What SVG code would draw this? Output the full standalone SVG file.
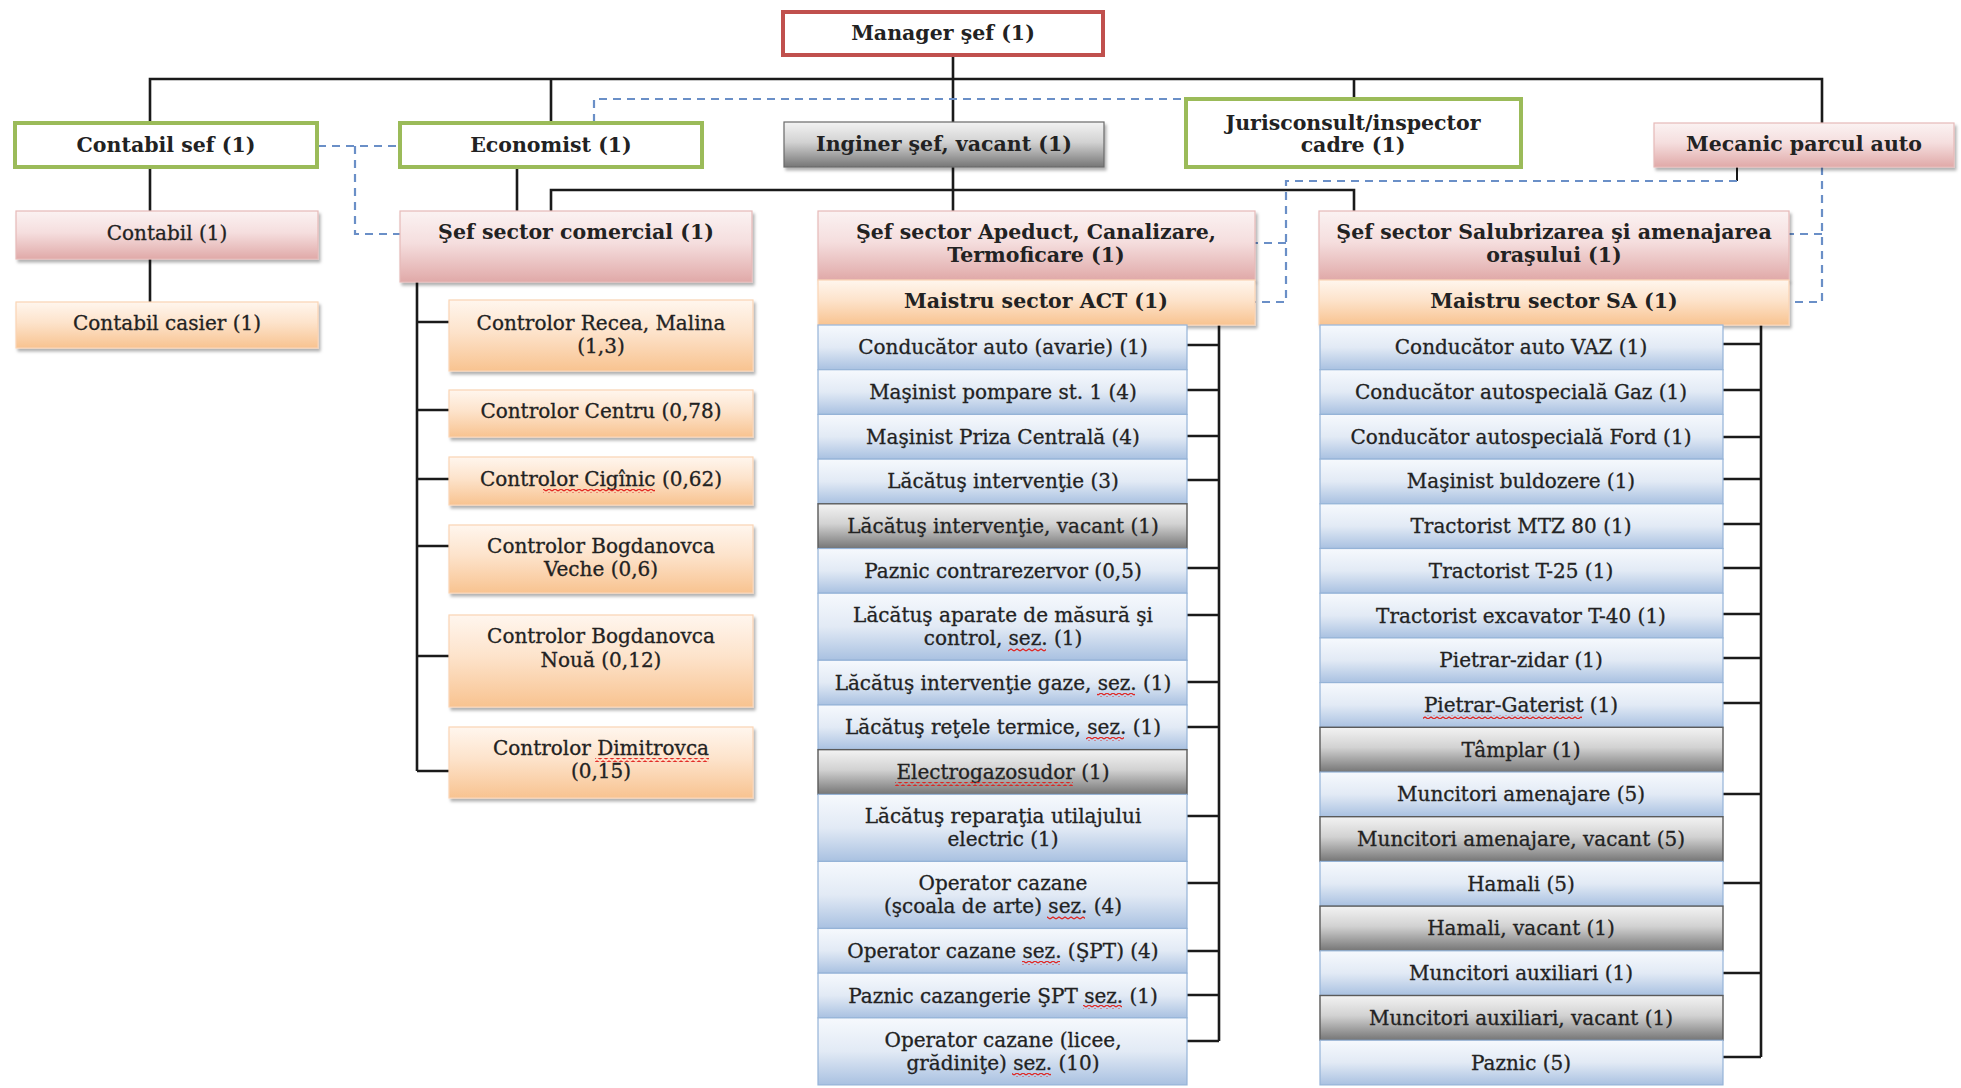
<svg xmlns="http://www.w3.org/2000/svg" width="1961" height="1088" viewBox="0 0 1961 1088">
<defs>
<linearGradient id="gPink" x1="0" y1="0" x2="0" y2="1"><stop offset="0" stop-color="#fbf2f2"/><stop offset="0.45" stop-color="#f5dede"/><stop offset="1" stop-color="#e0a9a8"/></linearGradient>
<linearGradient id="gOrange" x1="0" y1="0" x2="0" y2="1"><stop offset="0" stop-color="#fff6ee"/><stop offset="0.45" stop-color="#fde3cb"/><stop offset="1" stop-color="#f8c390"/></linearGradient>
<linearGradient id="gBlue" x1="0" y1="0" x2="0" y2="1"><stop offset="0" stop-color="#f6f9fd"/><stop offset="0.5" stop-color="#e2eaf5"/><stop offset="1" stop-color="#a9c1e1"/></linearGradient>
<linearGradient id="gGrey" x1="0" y1="0" x2="0" y2="1"><stop offset="0" stop-color="#f3f3f3"/><stop offset="0.45" stop-color="#d2d2d2"/><stop offset="1" stop-color="#767676"/></linearGradient>
<filter id="sh" x="-5%" y="-10%" width="112%" height="130%"><feDropShadow dx="2" dy="3" stdDeviation="1.6" flood-color="#000" flood-opacity="0.3"/></filter>
<pattern id="wave" width="6" height="4" patternUnits="userSpaceOnUse"><path d="M0 3L3 1L6 3" fill="none" stroke="#e0201c" stroke-width="1.1"/></pattern>
</defs>
<style>
text{font-family:"DejaVu Serif","Liberation Serif",serif;font-size:20px;fill:#222;stroke:#222;stroke-width:0.3;text-anchor:middle;dominant-baseline:central}
.b{font-weight:bold;font-size:20.5px;stroke-width:0}
.red{fill:#fff;stroke:#c0504d;stroke-width:4}
.grn{fill:#fff;stroke:#9bbb59;stroke-width:4}
.pink{fill:url(#gPink);stroke:#e6b9b8;stroke-width:1.2;filter:url(#sh)}
.org{fill:url(#gOrange);stroke:#fbd4b4;stroke-width:1.2;filter:url(#sh)}
.blue{fill:url(#gBlue);stroke:#95b3d7;stroke-width:1.2}
.grey{fill:url(#gGrey);stroke:#5a5a5a;stroke-width:1.4}
.gh{fill:url(#gGrey);stroke:#6a6a6a;stroke-width:1.2;filter:url(#sh)}
.ln{fill:none;stroke:#1a1a1a;stroke-width:2.6}
.dsh{fill:none;stroke:#6a8fc7;stroke-width:2.2;stroke-dasharray:8 6}
.sq{fill:url(#wave)}
</style>
<rect width="1961" height="1088" fill="#fff"/>

<g id="connectors">
<path class="ln" d="M953 56V122 M150 122V79H1822V123 M551 79V122 M1354 79V98"/>
<path class="ln" d="M953 167V211 M551 211V190H1354V211 M517 168V211"/>
<path class="ln" d="M150 168V211 M150 259V302"/>
<path class="ln" d="M417 282V771 M417 322H449 M417 410H449 M417 479H449 M417 546H449 M417 656H449 M417 771H449"/>
<path class="ln" d="M1219 325V1041 M1187 345H1219 M1187 390H1219 M1187 436H1219 M1187 480H1219 M1187 568H1219 M1187 615H1219 M1187 682H1219 M1187 727H1219 M1187 816H1219 M1187 883H1219 M1187 951H1219 M1187 995H1219 M1187 1041H1219"/>
<path class="ln" d="M1761 325V1057 M1723 344H1761 M1723 390H1761 M1723 437H1761 M1723 479H1761 M1723 524H1761 M1723 568H1761 M1723 614H1761 M1723 658H1761 M1723 703H1761 M1723 794H1761 M1723 883H1761 M1723 973H1761 M1723 1057H1761"/>
<path class="ln" d="M1737 167V181" style="stroke-width:2"/>
<path class="dsh" d="M318 146H399 M355 146V234H400"/>
<path class="dsh" d="M594 122V99H1185"/>
<path class="dsh" d="M1737 181H1286V302H1255 M1286 243H1255"/>
<path class="dsh" d="M1822 167V302H1789 M1822 234H1789"/>
</g>

<g id="manager"><rect class="red" x="783" y="12" width="320" height="43"/><text class="b" x="943" y="33">Manager şef (1)</text></g>
<g id="contabil-sef"><rect class="grn" x="15" y="123" width="302" height="44"/><text class="b" x="166" y="145">Contabil sef (1)</text></g>
<g id="economist"><rect class="grn" x="400" y="123" width="302" height="44"/><text class="b" x="551" y="145">Economist (1)</text></g>
<g id="inginer"><rect class="gh" x="784" y="122" width="320" height="45"/><text class="b" x="944" y="144">Inginer şef, vacant (1)</text></g>
<g id="jurisconsult"><rect class="grn" x="1186" y="99" width="335" height="68"/><text class="b" x="1353" y="123">Jurisconsult/inspector</text><text class="b" x="1353" y="145">cadre (1)</text></g>
<g id="mecanic"><rect class="pink" x="1654" y="123" width="300" height="44"/><text class="b" x="1804" y="144">Mecanic parcul auto</text></g>

<g id="contabil"><rect class="pink" x="16" y="211" width="302" height="48"/><text x="167" y="233">Contabil (1)</text></g>
<g id="contabil-casier"><rect class="org" x="16" y="302" width="302" height="46"/><text x="167" y="323">Contabil casier (1)</text></g>

<g id="sef-comercial"><rect class="pink" x="400" y="211" width="352" height="71"/><text class="b" x="576" y="232">Şef sector comercial (1)</text></g>
<g id="ctrl-recea"><rect class="org" x="449" y="300" width="304" height="71"/><text x="601" y="323">Controlor Recea, Malina</text><text x="601" y="346">(1,3)</text></g>
<g id="ctrl-centru"><rect class="org" x="449" y="390" width="304" height="47"/><text x="601" y="411">Controlor Centru (0,78)</text></g>
<g id="ctrl-ciginic"><rect class="org" x="449" y="457" width="304" height="48"/><text x="601" y="479">Controlor Cigînic (0,62)</text><rect class="sq" x="543" y="489" width="112" height="4"/></g>
<g id="ctrl-bogd-veche"><rect class="org" x="449" y="525" width="304" height="68"/><text x="601" y="546">Controlor Bogdanovca</text><text x="601" y="569">Veche (0,6)</text></g>
<g id="ctrl-bogd-noua"><rect class="org" x="449" y="615" width="304" height="92"/><text x="601" y="636">Controlor  Bogdanovca</text><text x="601" y="660">Nouă (0,12)</text></g>
<g id="ctrl-dimitrovca"><rect class="org" x="449" y="727" width="304" height="71"/><text x="601" y="748">Controlor Dimitrovca</text><text x="601" y="771">(0,15)</text><rect class="sq" x="595" y="758" width="114" height="4"/></g>

<g id="sef-act"><rect class="pink" x="818" y="211" width="437" height="69"/><text class="b" x="1036" y="232">Şef sector Apeduct, Canalizare,</text><text class="b" x="1036" y="255">Termoficare (1)</text></g>
<g id="maistru-act"><rect class="org" x="818" y="280" width="437" height="45"/><text class="b" x="1036" y="301">Maistru sector ACT (1)</text></g>

<g id="act-rows">
<g id="act-1"><rect class="blue" x="818" y="325" width="369" height="44.7"/><text x="1003" y="347">Conducător auto (avarie) (1)</text></g>
<g id="act-2"><rect class="blue" x="818" y="369.7" width="369" height="44.7"/><text x="1003" y="392">Maşinist pompare st. 1 (4)</text></g>
<g id="act-3"><rect class="blue" x="818" y="414.4" width="369" height="44.7"/><text x="1003" y="436.7">Maşinist Priza Centrală (4)</text></g>
<g id="act-4"><rect class="blue" x="818" y="459.1" width="369" height="44.7"/><text x="1003" y="481.4">Lăcătuş intervenţie (3)</text></g>
<g id="act-5"><rect class="grey" x="818" y="503.8" width="369" height="44.7"/><text x="1003" y="526.1">Lăcătuş intervenţie, vacant (1)</text></g>
<g id="act-6"><rect class="blue" x="818" y="548.5" width="369" height="44.7"/><text x="1003" y="570.8">Paznic contrarezervor (0,5)</text></g>
<g id="act-7"><rect class="blue" x="818" y="593.2" width="369" height="67.05"/><text x="1003" y="615">Lăcătuş aparate de măsură şi</text><text x="1003" y="638">control, sez. (1)</text><rect class="sq" x="1008" y="648" width="38" height="4"/></g>
<g id="act-8"><rect class="blue" x="818" y="660.25" width="369" height="44.7"/><text x="1003" y="682.6">Lăcătuş intervenţie gaze, sez.  (1)</text><rect class="sq" x="1097" y="693" width="38" height="4"/></g>
<g id="act-9"><rect class="blue" x="818" y="704.95" width="369" height="44.7"/><text x="1003" y="727.3">Lăcătuş reţele termice, sez. (1)</text><rect class="sq" x="1086" y="737" width="38" height="4"/></g>
<g id="act-10"><rect class="grey" x="818" y="749.65" width="369" height="44.7"/><text x="1003" y="772">Electrogazosudor  (1)</text><rect class="sq" x="895" y="782" width="178" height="4"/></g>
<g id="act-11"><rect class="blue" x="818" y="794.35" width="369" height="67.05"/><text x="1003" y="816">Lăcătuş reparaţia utilajului</text><text x="1003" y="839">electric (1)</text></g>
<g id="act-12"><rect class="blue" x="818" y="861.4" width="369" height="67.05"/><text x="1003" y="883">Operator cazane</text><text x="1003" y="906">(şcoala de arte) sez. (4)</text><rect class="sq" x="1047" y="916" width="38" height="4"/></g>
<g id="act-13"><rect class="blue" x="818" y="928.45" width="369" height="44.7"/><text x="1003" y="950.8">Operator cazane sez. (ŞPT) (4)</text><rect class="sq" x="1022" y="961" width="38" height="4"/></g>
<g id="act-14"><rect class="blue" x="818" y="973.15" width="369" height="44.7"/><text x="1003" y="995.5">Paznic cazangerie ŞPT  sez. (1)</text><rect class="sq" x="1083" y="1005" width="39" height="4"/></g>
<g id="act-15"><rect class="blue" x="818" y="1017.85" width="369" height="67.05"/><text x="1003" y="1040">Operator cazane (licee,</text><text x="1003" y="1063">grădiniţe)  sez. (10)</text><rect class="sq" x="1012" y="1073" width="39" height="4"/></g>
</g>

<g id="sef-sa"><rect class="pink" x="1319" y="211" width="470" height="69"/><text class="b" x="1554" y="232">Şef sector Salubrizarea şi amenajarea</text><text class="b" x="1554" y="255">oraşului (1)</text></g>
<g id="maistru-sa"><rect class="org" x="1319" y="280" width="470" height="45"/><text class="b" x="1554" y="301">Maistru sector SA (1)</text></g>

<g id="sa-rows">
<g id="sa-1"><rect class="blue" x="1320" y="325" width="403" height="44.7"/><text x="1521" y="347">Conducător auto VAZ (1)</text></g>
<g id="sa-2"><rect class="blue" x="1320" y="369.7" width="403" height="44.7"/><text x="1521" y="392">Conducător autospecială Gaz (1)</text></g>
<g id="sa-3"><rect class="blue" x="1320" y="414.4" width="403" height="44.7"/><text x="1521" y="436.7">Conducător autospecială Ford (1)</text></g>
<g id="sa-4"><rect class="blue" x="1320" y="459.1" width="403" height="44.7"/><text x="1521" y="481.4">Maşinist buldozere (1)</text></g>
<g id="sa-5"><rect class="blue" x="1320" y="503.8" width="403" height="44.7"/><text x="1521" y="526.1">Tractorist MTZ 80 (1)</text></g>
<g id="sa-6"><rect class="blue" x="1320" y="548.5" width="403" height="44.7"/><text x="1521" y="570.8">Tractorist T-25 (1)</text></g>
<g id="sa-7"><rect class="blue" x="1320" y="593.2" width="403" height="44.7"/><text x="1521" y="615.5">Tractorist excavator T-40 (1)</text></g>
<g id="sa-8"><rect class="blue" x="1320" y="637.9" width="403" height="44.7"/><text x="1521" y="660.2">Pietrar-zidar (1)</text></g>
<g id="sa-9"><rect class="blue" x="1320" y="682.6" width="403" height="44.7"/><text x="1521" y="704.9">Pietrar-Gaterist (1)</text><rect class="sq" x="1423" y="715" width="159" height="4"/></g>
<g id="sa-10"><rect class="grey" x="1320" y="727.3" width="403" height="44.7"/><text x="1521" y="749.6">Tâmplar (1)</text></g>
<g id="sa-11"><rect class="blue" x="1320" y="772" width="403" height="44.7"/><text x="1521" y="794.3">Muncitori amenajare (5)</text></g>
<g id="sa-12"><rect class="grey" x="1320" y="816.7" width="403" height="44.7"/><text x="1521" y="839">Muncitori amenajare, vacant (5)</text></g>
<g id="sa-13"><rect class="blue" x="1320" y="861.4" width="403" height="44.7"/><text x="1521" y="883.7">Hamali (5)</text></g>
<g id="sa-14"><rect class="grey" x="1320" y="906.1" width="403" height="44.7"/><text x="1521" y="928.4">Hamali, vacant (1)</text></g>
<g id="sa-15"><rect class="blue" x="1320" y="950.8" width="403" height="44.7"/><text x="1521" y="973.1">Muncitori auxiliari (1)</text></g>
<g id="sa-16"><rect class="grey" x="1320" y="995.5" width="403" height="44.7"/><text x="1521" y="1017.8">Muncitori auxiliari, vacant (1)</text></g>
<g id="sa-17"><rect class="blue" x="1320" y="1040.2" width="403" height="44.7"/><text x="1521" y="1062.5">Paznic  (5)</text></g>
</g>
</svg>
